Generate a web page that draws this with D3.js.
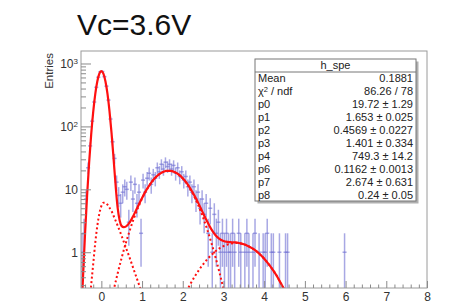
<!DOCTYPE html>
<html>
<head>
<meta charset="utf-8">
<script src="https://cdn.jsdelivr.net/npm/d3@7"></script>
<style>
  body { margin: 0; background: #fff; }
  text { font-family: "Liberation Sans", Arial, sans-serif; }
</style>
</head>
<body>
<div id="chart"></div>
<script>
// histogram bins (centre of each non-empty bin) and their counts
const binX = [-0.475,-0.425,-0.375,-0.325,-0.275,-0.225,-0.175,-0.125,-0.075,-0.025,
  0.025,0.075,0.125,0.175,0.225,0.275,0.325,0.375,0.425,0.475,0.525,0.575,0.625,0.675,
  0.725,0.775,0.825,0.875,0.925,0.975,1.025,1.075,1.125,1.175,1.225,1.275,1.325,1.375,
  1.425,1.475,1.525,1.575,1.625,1.675,1.725,1.775,1.825,1.875,1.925,1.975,2.025,2.075,
  2.125,2.175,2.225,2.275,2.325,2.375,2.425,2.475,2.525,2.575,2.625,2.675,2.725,2.775,
  2.825,2.875,2.925,2.975,3.025,3.075,3.125,3.175,3.225,3.275,3.375,3.425,3.525,3.575,
  3.625,3.725,3.775,3.875,3.975,4.025,4.075,4.175,4.225,4.375,4.525,4.575,5.975];
const counts = [1,2,7,22,49,121,244,418,604,738,
  746,618,436,262,131,57,31,13,8,6,9,11,10,3,
  13,7,12,6,9,2,14,9,15,18,12,17,15,22,
  19,25,21,27,23,25,21,24,18,22,16,19,14,16,
  11,13,9,11,7,9,5,7,4,6,2,5,1,4,
  2,3,1,2,1,2,1,1,2,1,2,1,1,2,
  1,1,2,1,1,1,2,1,1,1,1,1,1];
const binW = 0.05;

// total fit curve
const fitX = [-0.5,-0.45,-0.4,-0.35,-0.3,-0.25,-0.2,-0.15,-0.1,-0.05,0,0.05,0.1,0.15,0.2,0.25,
  0.3,0.35,0.4,0.45,0.5,0.55,0.6,0.7,0.8,0.9,1.0,1.1,1.2,1.3,1.4,1.5,1.6,1.7,1.8,1.9,2.0,
  2.1,2.2,2.3,2.4,2.5,2.6,2.7,2.8,2.9,3.0,3.1,3.2,3.3,3.4,3.5,3.6,3.7,3.8,3.9,4.0,4.1,4.2,
  4.3,4.4,4.5,4.6];
const fitY = [0.07,0.41,2.0,8.0,26.7,74,170,327,519,687,754,689,523,332,175,79,
  31,11.6,5.1,3.2,2.6,2.5,2.55,3.0,3.96,5.4,7.3,9.6,12.1,14.7,16.95,18.7,19.65,19.7,18.8,17.2,15.0,
  12.5,9.95,7.66,5.71,4.18,3.07,2.33,1.88,1.63,1.51,1.46,1.44,1.43,1.39,1.34,1.26,1.16,1.05,0.92,0.79,0.66,0.54,
  0.43,0.33,0.25,0.19];

// dotted components
const bgX = [-0.3,-0.25,-0.2,-0.15,-0.1,-0.05,0,0.05,0.1,0.15,0.2,0.25,0.3,0.4,0.5,0.6,0.7,0.8,0.9,1.0];
const bgY = [0.12,0.3,0.65,1.4,2.6,4.1,5.4,6.1,6.1,5.7,5.1,4.5,3.8,2.65,1.8,1.2,0.8,0.52,0.34,0.22];
const spe1X = [0.2,0.3,0.4,0.5,0.6,0.7,0.8,0.9,1.0,1.1,1.2,1.3,1.4,1.5,1.6,1.7,1.8,1.9,2.0,2.1,2.2,2.3,2.4,2.5,2.6,2.7,2.8,2.9,3.0,3.1];
const spe1Y = [0.126,0.246,0.459,0.82,1.39,2.24,3.46,5.07,7.10,9.48,12.07,14.64,16.92,18.64,19.59,19.62,18.73,17.04,14.78,12.22,9.63,7.24,5.19,3.54,2.30,1.43,0.85,0.48,0.26,0.13];
const spe2X = [1.9,2.0,2.1,2.2,2.3,2.4,2.5,2.6,2.7,2.8,2.9,3.0,3.1,3.2,3.3,3.4,3.5,3.6,3.7,3.8,3.9,4.0,4.1,4.2,4.3,4.4,4.5,4.6];
const spe2Y = [0.131,0.18,0.245,0.323,0.417,0.524,0.643,0.771,0.902,1.03,1.15,1.25,1.33,1.38,1.40,1.39,1.34,1.26,1.16,1.05,0.92,0.79,0.66,0.54,0.43,0.33,0.25,0.19];

// axis ticks
const xMajor = [0,1,2,3,4,5,6,7,8];
const yMajor = [1,10,100,1000];

// stats box
const statNames = ["Mean","χ2 / ndf","p0","p1","p2","p3","p4","p6","p7","p8"];
const statValues = ["0.1881","86.26 / 78","19.72 ± 1.29","1.653 ± 0.025","0.4569 ± 0.0227",
  "1.401 ± 0.334","749.3 ± 14.2","0.1162 ± 0.0013","2.674 ± 0.631","0.24 ± 0.05"];

const W = 455, H = 303;
const frame = { left: 81, right: 427, top: 51, bottom: 288 };

const svg = d3.select("#chart").append("svg")
  .attr("width", W).attr("height", H);

svg.append("rect").attr("width", W).attr("height", H).attr("fill", "#fff");

// title
svg.append("text")
  .attr("x", 77).attr("y", 35)
  .attr("font-size", 30)
  .attr("fill", "#111")
  .text("Vc=3.6V");

const x = d3.scaleLinear().domain([-0.5, 8]).range([frame.left, frame.right]);
const y = d3.scaleLog().domain([0.27, 1580]).range([frame.bottom, frame.top]);

svg.append("clipPath").attr("id", "plotclip")
  .append("rect")
  .attr("x", frame.left).attr("y", frame.top)
  .attr("width", frame.right - frame.left)
  .attr("height", frame.bottom - frame.top);

const plot = svg.append("g").attr("clip-path", "url(#plotclip)");

// error bars
const bins = binX.map((b, i) => ({ x: b, n: counts[i] }));
const lowY = (n) => (n - Math.sqrt(n) > 0 ? y(n - Math.sqrt(n)) : frame.bottom + 2);

const bars = plot.append("g")
  .attr("stroke", "rgb(110,110,210)")
  .attr("stroke-opacity", 0.6)
  .attr("stroke-width", 1.5);

bars.selectAll(".vbar")
  .data(bins)
  .enter()
  .append("line")
  .attr("x1", (d) => x(d.x))
  .attr("x2", (d) => x(d.x))
  .attr("y1", (d) => y(d.n + Math.sqrt(d.n)))
  .attr("y2", (d) => lowY(d.n));

bars.selectAll(".hbar")
  .data(bins)
  .enter()
  .append("line")
  .attr("x1", (d) => x(d.x - binW))
  .attr("x2", (d) => x(d.x + binW))
  .attr("y1", (d) => y(d.n))
  .attr("y2", (d) => y(d.n));

// fit curves
const curve = (xs, ys) =>
  d3.line()
    .x((d, i) => x(xs[i]))
    .y((d, i) => y(ys[i]))
    .curve(d3.curveMonotoneX)(xs);

[[bgX, bgY], [spe1X, spe1Y], [spe2X, spe2Y]].forEach(([xs, ys]) => {
  plot.append("path")
    .attr("d", curve(xs, ys))
    .attr("fill", "none")
    .attr("stroke", "#ff1010")
    .attr("stroke-width", 2)
    .attr("stroke-dasharray", "2,2.5");
});

plot.append("path")
  .attr("d", curve(fitX, fitY))
  .attr("fill", "none")
  .attr("stroke", "#ff1010")
  .attr("stroke-width", 2.2);

// frame
svg.append("rect")
  .attr("x", frame.left).attr("y", frame.top)
  .attr("width", frame.right - frame.left)
  .attr("height", frame.bottom - frame.top)
  .attr("fill", "none")
  .attr("stroke", "#9a9a9a")
  .attr("stroke-width", 1);

// x axis
const xMinor = d3.range(-0.4, 8.0001, 0.2).filter((v) => Math.abs(v - Math.round(v)) > 1e-6);
const xAxisG = svg.append("g").attr("transform", `translate(0,${frame.bottom})`);
xAxisG.append("g")
  .call(d3.axisBottom(x).tickValues(xMinor).tickSizeInner(-3.5).tickSizeOuter(0).tickFormat(""));
xAxisG.append("g")
  .call(d3.axisBottom(x).tickValues(xMajor).tickSizeInner(-7).tickSizeOuter(0).tickPadding(4).tickFormat(d3.format("d")));
xAxisG.selectAll(".domain").remove();
xAxisG.selectAll("line").attr("stroke", "#8a8a8a");
xAxisG.selectAll("text")
  .attr("font-size", 12)
  .attr("font-family", "Liberation Sans, Arial, sans-serif")
  .attr("fill", "#333");

// y axis
const yMinor = [];
[0.1, 1, 10, 100, 1000].forEach((dec) => {
  for (let m = 2; m <= 9; m++) {
    const v = dec * m;
    if (v > 0.27 && v < 1580) yMinor.push(v);
  }
});
const yAxisG = svg.append("g").attr("transform", `translate(${frame.left},0)`);
yAxisG.append("g")
  .call(d3.axisLeft(y).tickValues(yMinor).tickSizeInner(-5).tickSizeOuter(0).tickFormat(""));
yAxisG.append("g")
  .attr("class", "ymajor")
  .call(d3.axisLeft(y).tickValues(yMajor).tickSizeInner(-10).tickSizeOuter(0).tickPadding(3).tickFormat(""));
yAxisG.selectAll(".domain").remove();
yAxisG.selectAll("line").attr("stroke", "#8a8a8a");

yAxisG.select(".ymajor").selectAll(".tick text")
  .attr("font-size", 12)
  .attr("font-family", "Liberation Sans, Arial, sans-serif")
  .attr("fill", "#333")
  .each(function (d) {
    const t = d3.select(this);
    if (d < 100) {
      t.text(d);
    } else {
      t.text("10");
      t.append("tspan").attr("font-size", 8).attr("dy", "-0.45em").text(Math.round(Math.log10(d)));
    }
  });

// y title
svg.append("text")
  .attr("transform", "translate(53,53) rotate(-90)")
  .attr("text-anchor", "end")
  .attr("font-size", 11.5)
  .attr("fill", "#333")
  .text("Entries");

// stats box
const box = { x: 255, y: 59, w: 161, h: 142, title: 13 };
svg.append("rect")
  .attr("x", box.x + 2.5).attr("y", box.y + 2.5)
  .attr("width", box.w).attr("height", box.h)
  .attr("fill", "#b0b0b0");
svg.append("rect")
  .attr("x", box.x).attr("y", box.y)
  .attr("width", box.w).attr("height", box.h)
  .attr("fill", "#fff")
  .attr("stroke", "#777")
  .attr("stroke-width", 1);
svg.append("line")
  .attr("x1", box.x).attr("x2", box.x + box.w)
  .attr("y1", box.y + box.title).attr("y2", box.y + box.title)
  .attr("stroke", "#777");
svg.append("text")
  .attr("x", box.x + box.w / 2).attr("y", box.y + 10)
  .attr("text-anchor", "middle")
  .attr("font-size", 11)
  .attr("fill", "#222")
  .text("h_spe");

const rowH = (box.h - box.title) / statNames.length;
statNames.forEach((name, i) => {
  const by = box.y + box.title + rowH * (i + 1) - 2.5;
  const t = svg.append("text")
    .attr("x", box.x + 3).attr("y", by)
    .attr("font-size", 11)
    .attr("fill", "#222");
  if (name.startsWith("χ2")) {
    t.append("tspan").text("χ");
    t.append("tspan").attr("font-size", 7.5).attr("dy", "-0.5em").text("2");
    t.append("tspan").attr("dy", "0.35em").text(" / ndf");
  } else {
    t.text(name);
  }
  svg.append("text")
    .attr("x", box.x + box.w - 3).attr("y", by)
    .attr("text-anchor", "end")
    .attr("font-size", 11)
    .attr("fill", "#222")
    .text(statValues[i]);
});
</script>
</body>
</html>
